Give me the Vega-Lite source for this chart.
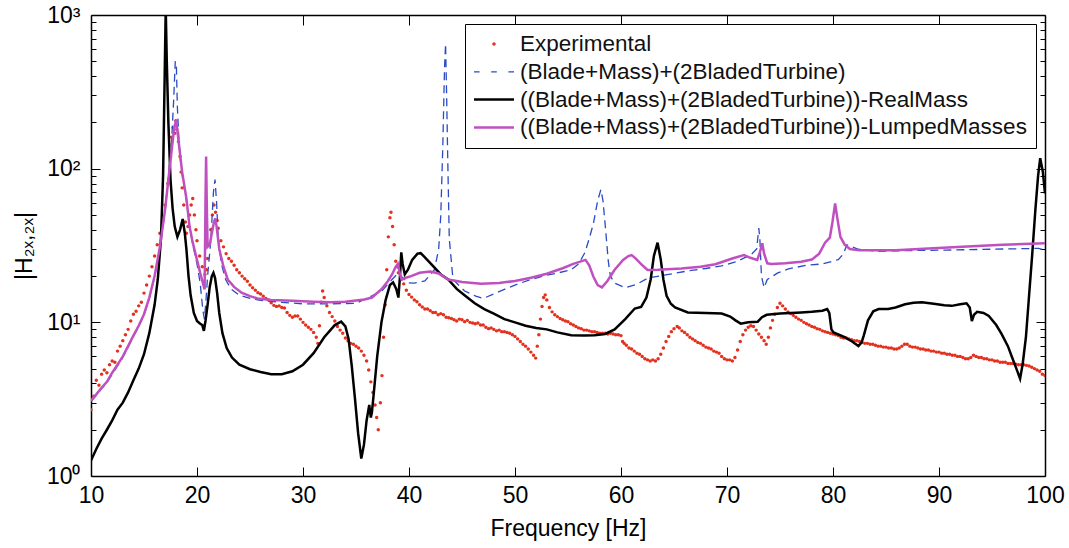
{
"$schema": "https://vega.github.io/schema/vega-lite/v6.json",
"width": 954, "height": 461,
"autosize": "none",
"padding": {"left": 91, "top": 15, "right": 24, "bottom": 72},
"background": "white",
"config": {"font": "Liberation Sans", "view": {"stroke": null}, "axis": {"grid": false}},
"datasets": {
"exp": [
{"f":10,"v":2.7},{"f":10.25,"v":3.3},{"f":10.5,"v":4.2},{"f":10.75,"v":3.9},{"f":11,"v":4.6},{"f":11.25,"v":4.9},{"f":11.5,"v":4.7},{"f":11.75,"v":5.3},{"f":12,"v":5.6},{"f":12.25,"v":5.5},{"f":12.5,"v":6.5},{"f":12.75,"v":7.0},{"f":13,"v":7.6},{"f":13.25,"v":8.3},{"f":13.5,"v":9.0},{"f":13.75,"v":10.2},{"f":14,"v":11.3},{"f":14.25,"v":11.8},{"f":14.5,"v":12.8},{"f":14.75,"v":13.5},{"f":15,"v":15.5},{"f":15.25,"v":17.5},{"f":15.5,"v":20},{"f":15.75,"v":23},{"f":16,"v":27},{"f":16.25,"v":32},{"f":16.5,"v":38},{"f":16.75,"v":45},{"f":17,"v":58},{"f":17.25,"v":80},{"f":17.5,"v":120},{"f":17.6,"v":160},{"f":17.75,"v":185},{"f":17.9,"v":170},{"f":18,"v":205},{"f":18.1,"v":180},{"f":18.25,"v":150},{"f":18.4,"v":120},{"f":18.5,"v":95},{"f":18.6,"v":75},{"f":18.75,"v":58},{"f":18.9,"v":45},{"f":19,"v":38},{"f":19.15,"v":42},{"f":19.3,"v":50},{"f":19.45,"v":58},{"f":19.6,"v":64},{"f":19.75,"v":50},{"f":19.9,"v":40},{"f":20,"v":34},{"f":20.25,"v":27},{"f":20.5,"v":23},{"f":20.75,"v":20.5},{"f":20.9,"v":22},{"f":21,"v":26},{"f":21.15,"v":32},{"f":21.3,"v":40},{"f":21.45,"v":50},{"f":21.6,"v":58},{"f":21.75,"v":52},{"f":21.9,"v":46},{"f":22,"v":41},{"f":22.25,"v":34},{"f":22.5,"v":31},{"f":22.75,"v":28},{"f":23,"v":26},{"f":23.25,"v":25},{"f":23.5,"v":23.5},{"f":23.75,"v":22},{"f":24,"v":21},{"f":24.25,"v":20},{"f":24.5,"v":19.2},{"f":24.75,"v":18.5},{"f":25,"v":17.5},{"f":25.25,"v":16.8},{"f":25.5,"v":16.2},{"f":25.75,"v":15.6},{"f":26,"v":15.3},{"f":26.25,"v":14.8},{"f":26.5,"v":14.3},{"f":26.75,"v":14.0},{"f":27,"v":13.4},{"f":27.25,"v":12.9},{"f":27.5,"v":12.7},{"f":27.75,"v":12.8},{"f":28,"v":12.5},{"f":28.25,"v":12.4},{"f":28.5,"v":11.6},{"f":28.75,"v":11.1},{"f":29,"v":10.8},{"f":29.25,"v":11.0},{"f":29.5,"v":11.0},{"f":29.75,"v":10.5},{"f":30,"v":10.0},{"f":30.25,"v":9.6},{"f":30.5,"v":9.3},{"f":30.75,"v":9.0},{"f":31,"v":8.6},{"f":31.25,"v":8.0},{"f":31.4,"v":7.3},{"f":31.55,"v":9.5},{"f":31.7,"v":13.5},{"f":31.85,"v":16.0},{"f":32,"v":14.5},{"f":32.25,"v":12.8},{"f":32.5,"v":11.6},{"f":32.75,"v":10.9},{"f":33,"v":10.2},{"f":33.25,"v":9.4},{"f":33.5,"v":8.9},{"f":33.75,"v":8.5},{"f":34,"v":7.9},{"f":34.25,"v":7.6},{"f":34.5,"v":7.3},{"f":34.75,"v":7.2},{"f":35,"v":7.0},{"f":35.25,"v":6.8},{"f":35.5,"v":6.5},{"f":35.75,"v":6.1},{"f":36,"v":5.6},{"f":36.2,"v":4.9},{"f":36.4,"v":4.1},{"f":36.6,"v":3.5},{"f":36.8,"v":2.9},{"f":36.95,"v":2.4},{"f":37.1,"v":2.0},{"f":37.3,"v":3.0},{"f":37.45,"v":4.5},{"f":37.6,"v":8.0},{"f":37.75,"v":13},{"f":37.9,"v":22},{"f":38.05,"v":36},{"f":38.2,"v":48},{"f":38.3,"v":52},{"f":38.45,"v":42},{"f":38.6,"v":32},{"f":38.75,"v":25},{"f":38.9,"v":23},{"f":39,"v":21},{"f":39.25,"v":19},{"f":39.5,"v":17.8},{"f":39.75,"v":16.2},{"f":40,"v":15.2},{"f":40.25,"v":14.6},{"f":40.5,"v":14.0},{"f":40.75,"v":13.6},{"f":41,"v":13.0},{"f":41.25,"v":12.6},{"f":41.5,"v":12.2},{"f":41.75,"v":12.2},{"f":42,"v":11.9},{"f":42.25,"v":11.6},{"f":42.5,"v":11.6},{"f":42.75,"v":11.2},{"f":43,"v":11.4},{"f":43.25,"v":11.2},{"f":43.5,"v":10.8},{"f":43.75,"v":10.7},{"f":44,"v":10.6},{"f":44.25,"v":10.4},{"f":44.5,"v":10.2},{"f":44.75,"v":10.5},{"f":45,"v":10.4},{"f":45.25,"v":10.1},{"f":45.5,"v":10.3},{"f":45.75,"v":10.0},{"f":46,"v":9.9},{"f":46.25,"v":9.8},{"f":46.5,"v":9.9},{"f":46.75,"v":9.6},{"f":47,"v":9.6},{"f":47.25,"v":9.3},{"f":47.5,"v":9.1},{"f":47.75,"v":9.2},{"f":48,"v":9.0},{"f":48.25,"v":8.8},{"f":48.5,"v":8.9},{"f":48.75,"v":8.7},{"f":49,"v":8.7},{"f":49.25,"v":8.6},{"f":49.5,"v":8.5},{"f":49.75,"v":8.3},{"f":50,"v":8.1},{"f":50.25,"v":7.8},{"f":50.5,"v":7.5},{"f":50.75,"v":7.2},{"f":51,"v":7.0},{"f":51.25,"v":6.7},{"f":51.5,"v":6.4},{"f":51.75,"v":6.1},{"f":51.95,"v":5.85},{"f":52.1,"v":7.0},{"f":52.25,"v":8.3},{"f":52.4,"v":10.5},{"f":52.55,"v":12.7},{"f":52.7,"v":14.5},{"f":52.85,"v":15.1},{"f":53,"v":14.0},{"f":53.25,"v":12.5},{"f":53.5,"v":11.7},{"f":53.75,"v":11.2},{"f":54,"v":10.9},{"f":54.25,"v":10.6},{"f":54.5,"v":10.4},{"f":54.75,"v":10.2},{"f":55,"v":10.1},{"f":55.25,"v":9.8},{"f":55.5,"v":9.6},{"f":55.75,"v":9.4},{"f":56,"v":9.2},{"f":56.25,"v":9.1},{"f":56.5,"v":8.9},{"f":56.75,"v":8.9},{"f":57,"v":8.8},{"f":57.25,"v":8.7},{"f":57.5,"v":8.7},{"f":57.75,"v":8.6},{"f":58,"v":8.5},{"f":58.25,"v":8.5},{"f":58.5,"v":8.5},{"f":58.75,"v":8.4},{"f":59,"v":8.5},{"f":59.25,"v":8.4},{"f":59.5,"v":8.3},{"f":59.75,"v":8.3},{"f":60,"v":8.2},{"f":60.15,"v":7.5},{"f":60.3,"v":7.3},{"f":60.5,"v":7.1},{"f":60.75,"v":6.8},{"f":61,"v":6.7},{"f":61.25,"v":6.5},{"f":61.5,"v":6.3},{"f":61.75,"v":6.2},{"f":62,"v":6.0},{"f":62.25,"v":5.8},{"f":62.5,"v":5.7},{"f":62.75,"v":5.6},{"f":63,"v":5.7},{"f":63.25,"v":5.6},{"f":63.5,"v":5.8},{"f":63.75,"v":6.2},{"f":64,"v":6.8},{"f":64.25,"v":7.5},{"f":64.5,"v":8.1},{"f":64.75,"v":8.7},{"f":65,"v":9.1},{"f":65.3,"v":9.4},{"f":65.5,"v":9.2},{"f":65.75,"v":8.8},{"f":66,"v":8.6},{"f":66.25,"v":8.3},{"f":66.5,"v":8.0},{"f":66.75,"v":7.8},{"f":67,"v":7.6},{"f":67.25,"v":7.4},{"f":67.5,"v":7.3},{"f":67.75,"v":7.1},{"f":68,"v":6.9},{"f":68.25,"v":6.8},{"f":68.5,"v":6.7},{"f":68.75,"v":6.5},{"f":69,"v":6.4},{"f":69.25,"v":6.3},{"f":69.5,"v":6.0},{"f":69.75,"v":5.8},{"f":70,"v":5.7},{"f":70.25,"v":5.7},{"f":70.5,"v":5.6},{"f":70.75,"v":5.9},{"f":71,"v":6.6},{"f":71.25,"v":7.5},{"f":71.5,"v":8.3},{"f":71.75,"v":8.9},{"f":72,"v":9.3},{"f":72.25,"v":9.5},{"f":72.5,"v":9.4},{"f":72.75,"v":8.9},{"f":73,"v":8.4},{"f":73.25,"v":8.0},{"f":73.5,"v":7.6},{"f":73.7,"v":7.2},{"f":73.9,"v":8.0},{"f":74.1,"v":9.2},{"f":74.3,"v":10.3},{"f":74.5,"v":11.3},{"f":74.75,"v":12.5},{"f":75,"v":13.3},{"f":75.25,"v":12.8},{"f":75.5,"v":12.2},{"f":75.75,"v":11.7},{"f":76,"v":11.4},{"f":76.25,"v":11.1},{"f":76.5,"v":10.8},{"f":76.75,"v":10.5},{"f":77,"v":10.3},{"f":77.25,"v":10.0},{"f":77.5,"v":9.8},{"f":77.75,"v":9.6},{"f":78,"v":9.4},{"f":78.25,"v":9.3},{"f":78.5,"v":9.1},{"f":78.75,"v":9.0},{"f":79,"v":8.8},{"f":79.25,"v":8.7},{"f":79.5,"v":8.6},{"f":79.75,"v":8.5},{"f":80,"v":8.4},{"f":80.25,"v":8.3},{"f":80.5,"v":8.2},{"f":80.75,"v":8.0},{"f":81,"v":7.9},{"f":81.25,"v":7.9},{"f":81.5,"v":7.8},{"f":81.75,"v":7.7},{"f":82,"v":7.6},{"f":82.25,"v":7.6},{"f":82.5,"v":7.5},{"f":82.75,"v":7.4},{"f":83,"v":7.3},{"f":83.25,"v":7.3},{"f":83.5,"v":7.2},{"f":83.75,"v":7.2},{"f":84,"v":7.1},{"f":84.25,"v":7.0},{"f":84.5,"v":7.0},{"f":84.75,"v":6.9},{"f":85,"v":6.9},{"f":85.25,"v":6.8},{"f":85.5,"v":6.8},{"f":85.75,"v":6.7},{"f":86,"v":6.7},{"f":86.25,"v":6.8},{"f":86.5,"v":7.0},{"f":86.75,"v":7.2},{"f":87,"v":7.2},{"f":87.25,"v":7.0},{"f":87.5,"v":6.9},{"f":87.75,"v":6.9},{"f":88,"v":6.8},{"f":88.25,"v":6.7},{"f":88.5,"v":6.7},{"f":88.75,"v":6.6},{"f":89,"v":6.6},{"f":89.25,"v":6.5},{"f":89.5,"v":6.5},{"f":89.75,"v":6.4},{"f":90,"v":6.4},{"f":90.25,"v":6.3},{"f":90.5,"v":6.3},{"f":90.75,"v":6.2},{"f":91,"v":6.2},{"f":91.25,"v":6.1},{"f":91.5,"v":6.1},{"f":91.75,"v":6.0},{"f":92,"v":6.0},{"f":92.25,"v":5.9},{"f":92.5,"v":5.8},{"f":92.75,"v":5.8},{"f":93,"v":5.9},{"f":93.25,"v":6.1},{"f":93.5,"v":6.0},{"f":93.75,"v":5.9},{"f":94,"v":5.9},{"f":94.25,"v":5.8},{"f":94.5,"v":5.8},{"f":94.75,"v":5.7},{"f":95,"v":5.7},{"f":95.25,"v":5.6},{"f":95.5,"v":5.6},{"f":95.75,"v":5.5},{"f":96,"v":5.5},{"f":96.25,"v":5.5},{"f":96.5,"v":5.4},{"f":96.75,"v":5.4},{"f":97,"v":5.4},{"f":97.25,"v":5.35},{"f":97.5,"v":5.3},{"f":97.75,"v":5.3},{"f":98,"v":5.3},{"f":98.25,"v":5.25},{"f":98.5,"v":5.2},{"f":98.75,"v":5.1},{"f":99,"v":5.0},{"f":99.25,"v":4.9},{"f":99.5,"v":4.8},{"f":99.75,"v":4.6},{"f":100,"v":4.5}
],
"blue": [
{"f":10,"v":3.05},{"f":10.5,"v":3.35},{"f":11,"v":3.7},{"f":11.5,"v":4.05},{"f":12,"v":4.6},{"f":12.5,"v":5.2},{"f":13,"v":5.9},{"f":13.5,"v":6.9},{"f":14,"v":8.1},{"f":14.5,"v":9.4},{"f":15,"v":11.2},{"f":15.5,"v":14.3},{"f":16,"v":19.7},{"f":16.5,"v":30.5},{"f":17,"v":54},{"f":17.3,"v":90},{"f":17.6,"v":150},{"f":17.8,"v":280},{"f":17.95,"v":500},{"f":18.05,"v":480},{"f":18.15,"v":250},{"f":18.3,"v":150},{"f":18.5,"v":100},{"f":18.8,"v":75},{"f":19,"v":62},{"f":19.3,"v":42},{"f":19.6,"v":32},{"f":20,"v":24},{"f":20.3,"v":18},{"f":20.55,"v":12},{"f":20.7,"v":10.5},{"f":20.85,"v":14},{"f":21,"v":20},{"f":21.3,"v":34},{"f":21.55,"v":70},{"f":21.7,"v":85},{"f":21.85,"v":60},{"f":22,"v":35},{"f":22.3,"v":24},{"f":22.7,"v":19},{"f":23.2,"v":16.5},{"f":24,"v":15},{"f":25,"v":14.3},{"f":26,"v":13.9},{"f":28,"v":13.5},{"f":30,"v":13.2},{"f":32.6,"v":13.2},{"f":35,"v":13.3},{"f":37.4,"v":15.9},{"f":38.4,"v":19},{"f":39,"v":21},{"f":39.4,"v":19.5},{"f":39.9,"v":18.1},{"f":40.5,"v":18.0},{"f":41.5,"v":18.6},{"f":42.4,"v":22},{"f":42.8,"v":30},{"f":43,"v":50},{"f":43.2,"v":150},{"f":43.35,"v":450},{"f":43.45,"v":650},{"f":43.55,"v":300},{"f":43.65,"v":120},{"f":43.8,"v":35},{"f":44.15,"v":19},{"f":45.25,"v":16},{"f":46.3,"v":14.8},{"f":47,"v":14.3},{"f":48,"v":15.3},{"f":49,"v":16.4},{"f":50.3,"v":17.8},{"f":51.5,"v":19},{"f":53,"v":20.3},{"f":54.1,"v":21},{"f":55.3,"v":22},{"f":56,"v":24},{"f":56.6,"v":28.5},{"f":57,"v":35},{"f":57.4,"v":44},{"f":57.8,"v":62},{"f":58.1,"v":73},{"f":58.3,"v":62},{"f":58.55,"v":40},{"f":58.8,"v":25},{"f":59,"v":20},{"f":59.4,"v":18},{"f":60.4,"v":16.8},{"f":61.5,"v":17.7},{"f":62.6,"v":19.5},{"f":64.5,"v":20.5},{"f":66.3,"v":21.6},{"f":68,"v":22.4},{"f":69.5,"v":23.3},{"f":71,"v":25},{"f":72.3,"v":27.7},{"f":72.8,"v":30},{"f":73,"v":41},{"f":73.1,"v":35},{"f":73.25,"v":20},{"f":73.5,"v":16.8},{"f":73.8,"v":19},{"f":74.75,"v":20.9},{"f":75.8,"v":22.3},{"f":77.5,"v":23.5},{"f":79,"v":24},{"f":80.5,"v":25.6},{"f":81,"v":28},{"f":81.3,"v":31.9},{"f":81.8,"v":31},{"f":82.4,"v":29.9},{"f":84.3,"v":29},{"f":87,"v":29.3},{"f":90.6,"v":29.5},{"f":95,"v":29.9},{"f":99.4,"v":30.3},{"f":100,"v":29.5}
],
"black": [
{"f":10,"v":1.26},{"f":10.5,"v":1.5},{"f":11,"v":1.75},{"f":11.5,"v":2.0},{"f":12,"v":2.3},{"f":12.5,"v":2.7},{"f":13,"v":3.0},{"f":13.5,"v":3.5},{"f":14,"v":4.2},{"f":14.5,"v":5.0},{"f":15,"v":6.2},{"f":15.5,"v":8.5},{"f":16,"v":13},{"f":16.3,"v":19},{"f":16.6,"v":35},{"f":16.8,"v":90},{"f":16.95,"v":400},{"f":17.05,"v":1100},{"f":17.15,"v":500},{"f":17.3,"v":200},{"f":17.5,"v":85},{"f":17.7,"v":55},{"f":17.9,"v":42},{"f":18.15,"v":36},{"f":18.4,"v":40},{"f":18.65,"v":47},{"f":18.85,"v":38},{"f":19,"v":30},{"f":19.2,"v":20},{"f":19.4,"v":15},{"f":19.7,"v":11.5},{"f":20,"v":10.2},{"f":20.3,"v":9.8},{"f":20.5,"v":9.6},{"f":20.65,"v":8.8},{"f":20.8,"v":10.2},{"f":21,"v":13},{"f":21.2,"v":17},{"f":21.4,"v":20},{"f":21.55,"v":21},{"f":21.7,"v":19.5},{"f":21.9,"v":15.5},{"f":22.1,"v":11.5},{"f":22.4,"v":8.5},{"f":22.8,"v":6.8},{"f":23.3,"v":5.9},{"f":24,"v":5.3},{"f":25,"v":4.95},{"f":26,"v":4.75},{"f":27,"v":4.6},{"f":28,"v":4.6},{"f":29,"v":4.8},{"f":30,"v":5.3},{"f":31,"v":6.3},{"f":32,"v":8.0},{"f":33,"v":9.6},{"f":33.6,"v":10.1},{"f":34,"v":9.4},{"f":34.3,"v":7.8},{"f":34.6,"v":5.2},{"f":34.9,"v":3.2},{"f":35.2,"v":1.9},{"f":35.5,"v":1.3},{"f":35.75,"v":1.6},{"f":36,"v":2.3},{"f":36.25,"v":2.9},{"f":36.4,"v":2.4},{"f":36.5,"v":2.6},{"f":36.65,"v":3.3},{"f":37,"v":6.0},{"f":37.4,"v":10},{"f":37.8,"v":14},{"f":38.2,"v":17.5},{"f":38.5,"v":18.2},{"f":38.8,"v":16.5},{"f":39,"v":14.5},{"f":39.15,"v":20},{"f":39.27,"v":28.5},{"f":39.4,"v":24},{"f":39.6,"v":20.5},{"f":39.9,"v":22},{"f":40.3,"v":25.5},{"f":40.8,"v":28},{"f":41.1,"v":28.2},{"f":41.5,"v":26.5},{"f":42.1,"v":23.9},{"f":43,"v":20.5},{"f":43.7,"v":19},{"f":44.5,"v":16.5},{"f":45.3,"v":14.9},{"f":46.2,"v":13.3},{"f":47.1,"v":12.2},{"f":48,"v":11.4},{"f":49,"v":10.5},{"f":50,"v":10.0},{"f":51,"v":9.5},{"f":52,"v":9.2},{"f":53,"v":9.0},{"f":54,"v":8.6},{"f":55.3,"v":8.25},{"f":56.5,"v":8.2},{"f":57.5,"v":8.25},{"f":58.5,"v":8.4},{"f":59.4,"v":9.0},{"f":60.4,"v":10.5},{"f":61.3,"v":12.3},{"f":61.9,"v":12.6},{"f":62.4,"v":14.5},{"f":62.8,"v":19},{"f":63.1,"v":27},{"f":63.45,"v":33},{"f":63.75,"v":25.6},{"f":64,"v":19},{"f":64.3,"v":14.9},{"f":64.7,"v":13.2},{"f":65.1,"v":12.5},{"f":66.3,"v":11.6},{"f":68,"v":11.5},{"f":69.5,"v":11.4},{"f":70.3,"v":10.9},{"f":70.8,"v":10.3},{"f":71.3,"v":9.8},{"f":72,"v":10.0},{"f":72.9,"v":10.1},{"f":73.3,"v":10.8},{"f":73.75,"v":11.2},{"f":75,"v":11.4},{"f":77,"v":11.6},{"f":78,"v":11.7},{"f":79,"v":11.9},{"f":79.45,"v":12.2},{"f":79.65,"v":11.5},{"f":79.85,"v":9.0},{"f":80.05,"v":8.6},{"f":81.1,"v":8.0},{"f":81.8,"v":7.5},{"f":82.4,"v":7.0},{"f":82.7,"v":7.4},{"f":82.9,"v":8.2},{"f":83.3,"v":10.3},{"f":83.8,"v":11.8},{"f":84.3,"v":12.2},{"f":85.2,"v":12.2},{"f":85.9,"v":12.5},{"f":86.8,"v":13.1},{"f":87.6,"v":13.4},{"f":88.4,"v":13.5},{"f":89.5,"v":13.2},{"f":90.5,"v":12.9},{"f":91.2,"v":12.8},{"f":92,"v":13.1},{"f":92.6,"v":13.3},{"f":92.9,"v":12.5},{"f":93.1,"v":10.2},{"f":93.3,"v":11.2},{"f":93.6,"v":11.7},{"f":94.2,"v":11.5},{"f":94.7,"v":11.0},{"f":95.4,"v":9.6},{"f":95.9,"v":8.4},{"f":96.5,"v":7.0},{"f":96.9,"v":5.9},{"f":97.3,"v":5.0},{"f":97.65,"v":4.3},{"f":97.9,"v":5.4},{"f":98.2,"v":8.0},{"f":98.5,"v":15},{"f":98.8,"v":28},{"f":99.1,"v":55},{"f":99.35,"v":90},{"f":99.55,"v":117},{"f":99.8,"v":95},{"f":100,"v":69}
],
"mag": [
{"f":10,"v":3.1},{"f":10.5,"v":3.4},{"f":11,"v":3.75},{"f":11.5,"v":4.1},{"f":12,"v":4.7},{"f":12.5,"v":5.3},{"f":13,"v":6.0},{"f":13.5,"v":7.0},{"f":14,"v":8.2},{"f":14.5,"v":9.5},{"f":15,"v":11.3},{"f":15.5,"v":14.5},{"f":16,"v":20},{"f":16.5,"v":31},{"f":17,"v":55},{"f":17.3,"v":85},{"f":17.6,"v":130},{"f":17.85,"v":185},{"f":18.03,"v":207},{"f":18.2,"v":165},{"f":18.4,"v":125},{"f":18.6,"v":95},{"f":18.8,"v":78},{"f":19,"v":64},{"f":19.3,"v":42},{"f":19.6,"v":33},{"f":20,"v":25.5},{"f":20.3,"v":21},{"f":20.6,"v":17.5},{"f":20.72,"v":16.4},{"f":20.8,"v":60},{"f":20.86,"v":120},{"f":20.92,"v":60},{"f":21,"v":31},{"f":21.2,"v":32},{"f":21.4,"v":38},{"f":21.6,"v":45},{"f":21.72,"v":47.5},{"f":21.85,"v":42},{"f":22.1,"v":30},{"f":22.5,"v":23},{"f":22.9,"v":19},{"f":23.5,"v":17},{"f":24.2,"v":15.6},{"f":25,"v":14.8},{"f":25.7,"v":14.3},{"f":27,"v":14.0},{"f":29,"v":13.8},{"f":31,"v":13.6},{"f":32.6,"v":13.5},{"f":34,"v":13.6},{"f":35.8,"v":14.1},{"f":36.5,"v":14.5},{"f":37.4,"v":16.4},{"f":38,"v":18.5},{"f":38.4,"v":20.5},{"f":38.75,"v":23},{"f":38.95,"v":24},{"f":39.15,"v":20.5},{"f":39.3,"v":19},{"f":39.7,"v":19.5},{"f":40.2,"v":20},{"f":41,"v":21},{"f":42,"v":21.4},{"f":42.8,"v":20.8},{"f":43.7,"v":19.0},{"f":45,"v":18.3},{"f":46.8,"v":17.8},{"f":48.5,"v":18.0},{"f":50,"v":18.6},{"f":51.5,"v":19.5},{"f":53,"v":20.7},{"f":54.5,"v":22.5},{"f":55.5,"v":24},{"f":56.65,"v":25.5},{"f":57,"v":23.5},{"f":57.4,"v":19.8},{"f":57.8,"v":17.5},{"f":58.2,"v":16.9},{"f":58.7,"v":18.5},{"f":59.4,"v":22},{"f":60.2,"v":25.5},{"f":60.7,"v":27},{"f":61,"v":27.4},{"f":61.4,"v":26},{"f":61.9,"v":23.9},{"f":62.5,"v":21.9},{"f":63.5,"v":22.0},{"f":65.7,"v":22.4},{"f":67.5,"v":23},{"f":68.9,"v":23.9},{"f":70.5,"v":26},{"f":71.6,"v":27.4},{"f":72.2,"v":26.3},{"f":72.85,"v":25.5},{"f":73.1,"v":28.5},{"f":73.33,"v":32.7},{"f":73.5,"v":28},{"f":73.8,"v":24.2},{"f":74.2,"v":24},{"f":75.5,"v":24.2},{"f":77,"v":24.8},{"f":78,"v":25.6},{"f":78.7,"v":28},{"f":79.25,"v":33},{"f":79.7,"v":35.6},{"f":79.95,"v":45},{"f":80.2,"v":59.4},{"f":80.4,"v":48},{"f":80.7,"v":36},{"f":81.1,"v":32},{"f":81.6,"v":30},{"f":82.5,"v":29.4},{"f":85.9,"v":29.5},{"f":89,"v":30.2},{"f":92.2,"v":31},{"f":96,"v":32},{"f":100,"v":32.7}
]
},
"resolve": {"axis": {"x": "independent", "y": "independent"}},
"layer": [
{
"data": {"name": "exp"},
"mark": {"type": "point", "filled": true, "size": 1600, "opacity": 1, "clip": true},
"encoding": {
"x": {"field": "f", "type": "quantitative", "scale": {"domain": [10, 100], "nice": false, "zero": false},
  "axis": {"orient": "bottom", "values": [10,20,30,40,50,60,70,80,90,100], "tickSize": -9, "labelPadding": 17, "labelFontSize": 23, "labelColor": "black", "labelFlush": false, "tickColor": "black", "domainColor": "black", "domainWidth": 1.5, "title": "Frequency [Hz]", "titleFontSize": 23, "titleFontWeight": "normal", "titleColor": "black", "titlePadding": 10}},
"y": {"field": "v", "type": "quantitative", "scale": {"type": "log", "domain": [1, 1000], "nice": false},
  "axis": {"orient": "left", "values": [1,10,100,1000], "labelExpr": "datum.value == 1 ? '10⁰' : datum.value == 10 ? '10¹' : datum.value == 100 ? '10²' : '10³'", "tickSize": -9, "labelPadding": 20, "labelFontSize": 23, "labelColor": "black", "labelFlush": false, "tickColor": "black", "domainColor": "black", "domainWidth": 1.5, "title": "|H₂ₓ,₂ₓ|", "titleFontSize": 23, "titleFontWeight": "normal", "titleColor": "black", "titlePadding": 10}},
"color": {"datum": "Experimental", "type": "nominal",
  "scale": {"domain": ["Experimental", "(Blade+Mass)+(2BladedTurbine)", "((Blade+Mass)+(2BladedTurbine))-RealMass", "((Blade+Mass)+(2BladedTurbine))-LumpedMasses"], "range": ["#e3311d", "#2a4bc4", "#000000", "#c04fc0"]},
  "legend": {"title": null, "orient": "top-right", "offset": 9, "padding": 9, "fillColor": "white", "strokeColor": "black", "labelFontSize": 22.5, "labelColor": "#111111", "labelLimit": 800, "labelOffset": 6, "rowPadding": 4.8, "clipHeight": 22, "symbolSize": 1600, "symbolStrokeWidth": 0}},
"shape": {"datum": "Experimental", "type": "nominal",
  "scale": {"domain": ["Experimental", "(Blade+Mass)+(2BladedTurbine)", "((Blade+Mass)+(2BladedTurbine))-RealMass", "((Blade+Mass)+(2BladedTurbine))-LumpedMasses"], "range": ["M-0.085,0A0.085,0.085,0,1,1,0.085,0A0.085,0.085,0,1,1,-0.085,0Z", "M-1,-0.0325H-0.72V0.0325H-1ZM-0.14,-0.0325H0.14V0.0325H-0.14ZM0.72,-0.0325H1V0.0325H0.72Z", "M-1,-0.0625H1V0.0625H-1Z", "M-1,-0.0625H1V0.0625H-1Z"]},
  "legend": {"title": null, "orient": "top-right", "offset": 9, "padding": 9, "fillColor": "white", "strokeColor": "black", "labelFontSize": 22.5, "labelColor": "#111111", "labelLimit": 800, "labelOffset": 6, "rowPadding": 4.8, "clipHeight": 22, "symbolSize": 1600, "symbolStrokeWidth": 0}}
}
},
{
"data": {"name": "blue"},
"mark": {"type": "line", "strokeWidth": 1.3, "strokeDash": [8, 5], "clip": true},
"encoding": {
"x": {"field": "f", "type": "quantitative", "axis": {"orient": "top", "values": [20,30,40,50,60,70,80,90], "tickSize": -10, "labels": false, "tickColor": "black", "domainColor": "black", "domainWidth": 1.5, "title": null}},
"y": {"field": "v", "type": "quantitative", "axis": {"orient": "right", "values": [1,10,100,1000], "tickSize": -9, "labels": false, "tickColor": "black", "domainColor": "black", "domainWidth": 1.5, "title": null}},
"color": {"datum": "(Blade+Mass)+(2BladedTurbine)", "type": "nominal"}
}
},
{
"data": {"name": "black"},
"mark": {"type": "line", "strokeWidth": 2.5, "clip": true},
"encoding": {
"x": {"field": "f", "type": "quantitative", "axis": null},
"y": {"field": "v", "type": "quantitative", "axis": {"orient": "left", "values": [2,3,4,5,6,7,8,9,20,30,40,50,60,70,80,90,200,300,400,500,600,700,800,900], "tickSize": -5, "labels": false, "domain": false, "tickColor": "black", "title": null}},
"color": {"datum": "((Blade+Mass)+(2BladedTurbine))-RealMass", "type": "nominal"}
}
},
{
"data": {"name": "mag"},
"mark": {"type": "line", "strokeWidth": 2.5, "clip": true},
"encoding": {
"x": {"field": "f", "type": "quantitative", "axis": null},
"y": {"field": "v", "type": "quantitative", "axis": {"orient": "right", "values": [2,3,4,5,6,7,8,9,20,30,40,50,60,70,80,90,200,300,400,500,600,700,800,900], "tickSize": -5, "labels": false, "domain": false, "tickColor": "black", "title": null}},
"color": {"datum": "((Blade+Mass)+(2BladedTurbine))-LumpedMasses", "type": "nominal"}
}
}
]
}
